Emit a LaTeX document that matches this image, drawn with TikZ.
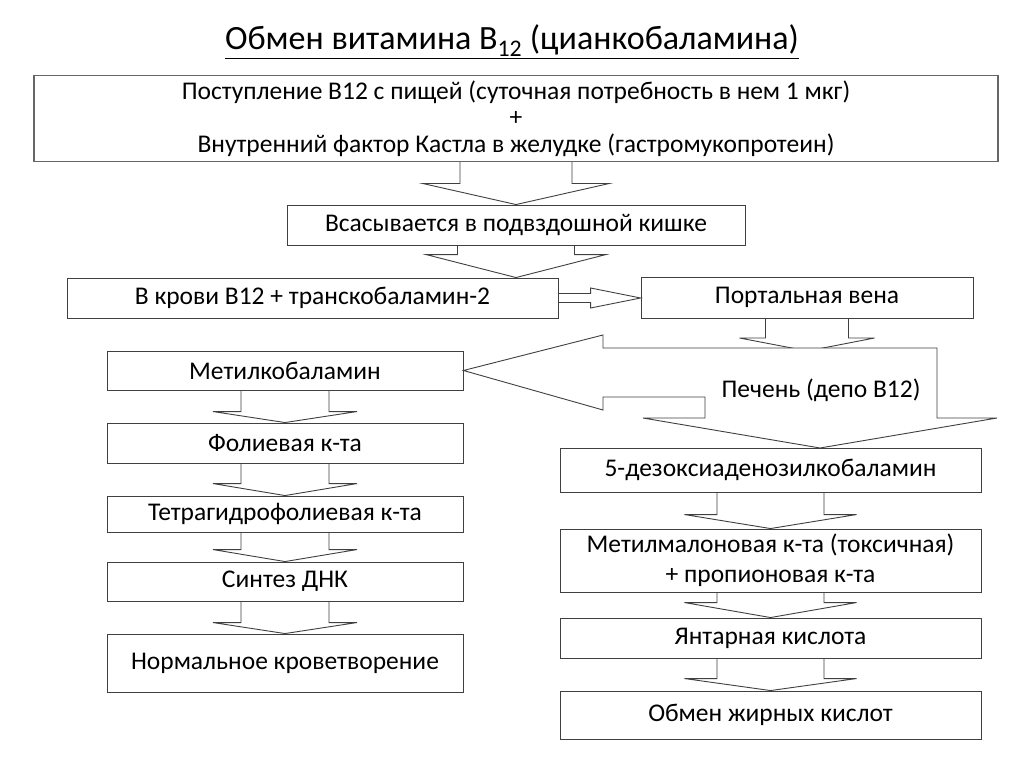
\documentclass[tikz,border=0pt]{standalone}
\usepackage{fontspec}
\setmainfont{Carlito}
\usetikzlibrary{calc}
\newcommand{\bdown}[5]{%
  \draw[barrow] let \p1=(#1.south), \p2=(#2.north) in
    (\x1-#3pt,\y1) -- (\x1-#3pt,\y2+#5pt) -- (\x1-#4pt,\y2+#5pt) -- (\x1,\y2)
    -- (\x1+#4pt,\y2+#5pt) -- (\x1+#3pt,\y2+#5pt) -- (\x1+#3pt,\y1);}
\begin{document}
\begin{tikzpicture}[x=1pt,y=-1pt,
  box/.style={draw=black!75, line width=0.9pt, fill=white, inner sep=0pt,
    font=\fontsize{25.5}{26}\selectfont, align=center},
  barrow/.style={draw=black!75, line width=0.9pt, line join=miter},
  lbl/.style={font=\fontsize{25.5}{26}\selectfont, inner sep=0pt}]
\useasboundingbox (0,0) rectangle (1024,767);
\fill[white] (0,0) rectangle (1024,767);

\node[font=\fontsize{34}{38}\selectfont, inner sep=0pt] (title) at (512,42)
  {\underline{Обмен витамина B\textsubscript{12} (цианкобаламина)}};

\node[box, draw=black!60, line width=1.3pt, minimum width=964pt, minimum height=86pt,
  font=\fontsize{25.5}{26.5}\selectfont] (top) at (516,118.5)
  {Поступление B12 с пищей (суточная потребность в нем 1 мкг)\\+\\Внутренний фактор Кастла в желудке (гастромукопротеин)};
\node[box, minimum width=458pt, minimum height=40pt] (vs) at (516,225) {Всасывается в подвздошной кишке};
\node[box, minimum width=491pt, minimum height=40pt] (krov) at (312.5,298) {В крови B12 + транскобаламин-2};
\node[box, minimum width=332pt, minimum height=41pt] (portal) at (807,297.5) {Портальная вена};

\node[box, minimum width=356pt, minimum height=39pt] (metil) at (285,370.5) {Метилкобаламин};
\node[box, minimum width=356pt, minimum height=40pt] (fol) at (285,443) {Фолиевая к-та};
\node[box, minimum width=356pt, minimum height=36pt] (tetra) at (285,514) {Тетрагидрофолиевая к-та};
\node[box, minimum width=356pt, minimum height=39pt] (sint) at (285,581.5) {Синтез ДНК};
\node[box, minimum width=356pt, minimum height=58pt] (norm) at (285,663) {Нормальное кроветворение};

\node[box, minimum width=421pt, minimum height=44pt] (dezo) at (770.5,470) {5-дезоксиаденозилкобаламин};
\node[box, minimum width=421pt, minimum height=63pt, font=\fontsize{25.5}{30}\selectfont] (metmal) at (770.5,560.5) {Метилмалоновая к-та (токсичная)\\+ пропионовая к-та};
\node[box, minimum width=421pt, minimum height=40pt] (yant) at (770.5,638) {Янтарная кислота};
\node[box, minimum width=421pt, minimum height=48pt] (obmen) at (770.5,715) {Обмен жирных кислот};

% block arrows
\bdown{top}{vs}{56}{93}{21}
\bdown{vs}{krov}{58.5}{90}{23}
\draw[barrow] let \p1=(krov.east), \p2=(portal.west) in
  (\x1,\y1+4.5pt) -- (\x2-50pt,\y1+4.5pt) -- (\x2-50pt,\y1+10pt) -- (\x2,\y1)
  -- (\x2-50pt,\y1-10pt) -- (\x2-50pt,\y1-4.5pt) -- (\x1,\y1-4.5pt);
\coordinate (ptip) at (807.5,351);
\draw[barrow] let \p1=(portal.south), \p2=(ptip) in
  (\x1-41.5pt,\y1) -- (\x1-41.5pt,\y2+13pt) -- (\x1-67.5pt,\y2+13pt) -- (\x2,\y2)
  -- (\x1+67.5pt,\y2+13pt) -- (\x1+41.5pt,\y2+13pt) -- (\x1+41.5pt,\y1);

% liver combined arrow
\coordinate (ltip) at (820,448);
\draw[barrow, fill=white] (metil.east) -- (603,335) -- (603,348) -- (937,348) -- (937,418)
  -- (997,418) -- (ltip) -- (643,418) -- (705,418) -- (705,397) -- (603,397)
  -- (603,410) -- cycle;
\node[lbl] (liver) at (821,390) {Печень (депо B12)};

\bdown{metil}{fol}{44}{72}{11}
\bdown{fol}{tetra}{44}{72}{12}
\bdown{tetra}{sint}{44}{72}{12}
\bdown{sint}{norm}{44}{72}{11}

\bdown{dezo}{metmal}{53.5}{86}{14}
\bdown{metmal}{yant}{53.5}{86}{15}
\bdown{yant}{obmen}{53.5}{86}{12}
\end{tikzpicture}
\end{document}
